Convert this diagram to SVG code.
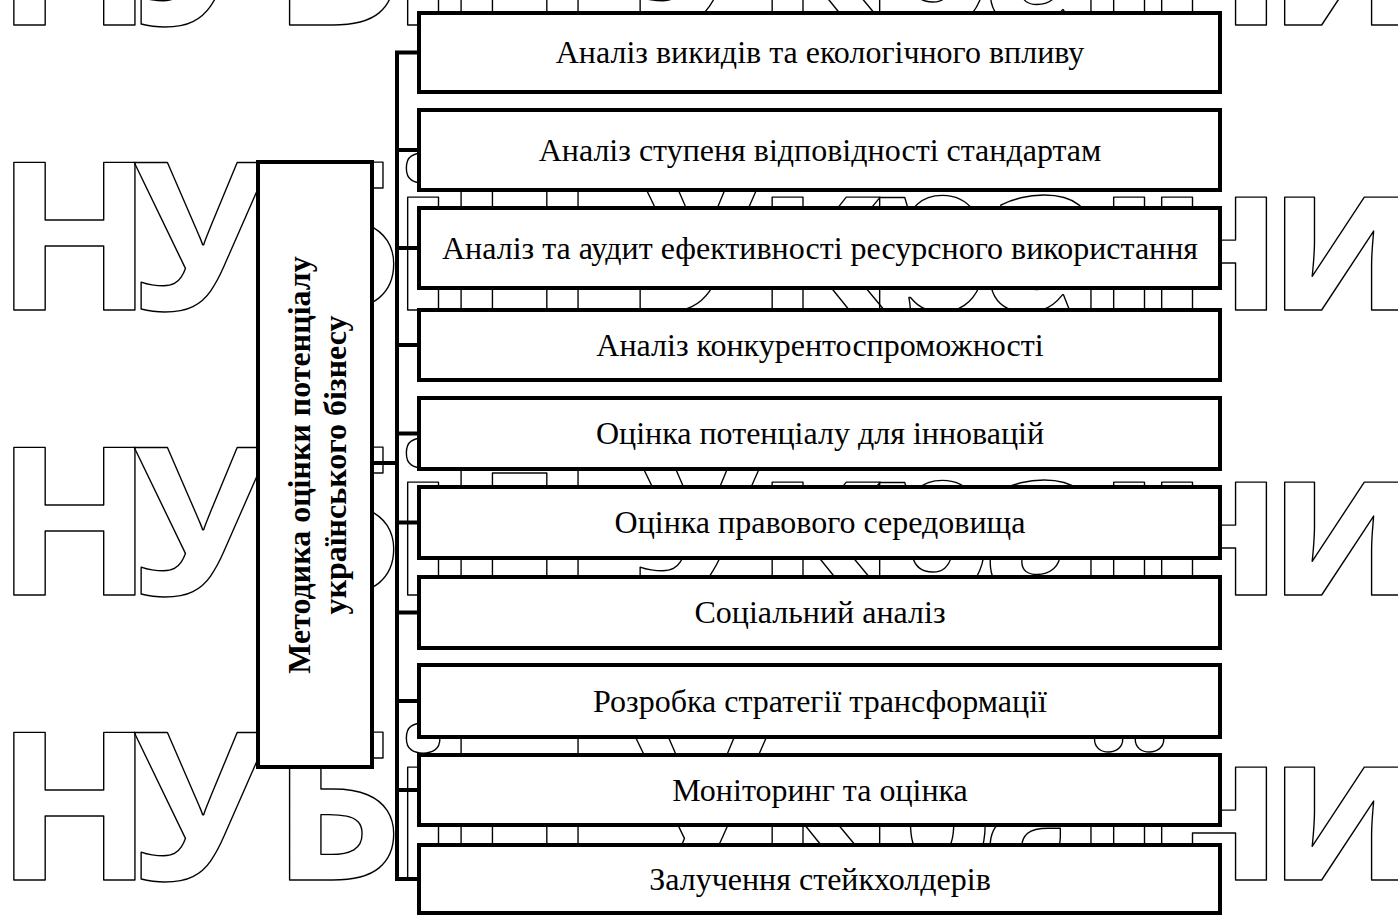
<svg xmlns="http://www.w3.org/2000/svg" width="1398" height="915" viewBox="0 0 1398 915">
<style>
.wm{font-family:"Open Sans","DejaVu Sans",sans-serif;font-weight:bold;font-size:207px;fill:none;stroke:#000;stroke-width:1.4;stroke-linejoin:round;text-anchor:middle}
.box{fill:#fff;stroke:#000;stroke-width:4}
.lbl{font-family:"Liberation Serif","Times New Roman",serif;font-size:32px;fill:#000;text-anchor:middle}
.main{font-family:"Liberation Serif","Times New Roman",serif;font-size:32px;font-weight:bold;fill:#000;text-anchor:middle}
.con{fill:none;stroke:#000;stroke-width:4;stroke-linejoin:miter}
</style>
<rect width="1398" height="915" fill="#fff"/>
<g id="watermark">
<text class="wm" x="74.5 201 337 423 519.5 600 700 820 929 1044 1129 1214 1343" y="25">НУБіП України</text>
<text class="wm" x="74.5 201 337 423 519.5 600 700 820 929 1044 1129 1214 1343" y="310">НУБіП України</text>
<text class="wm" x="74.5 201 337 423 519.5 600 700 820 929 1044 1129 1214 1343" y="595">НУБіП України</text>
<text class="wm" x="74.5 201 337 423 519.5 600 700 820 929 1044 1129 1214 1343" y="880">НУБіП України</text>
</g>
<g id="connectors">
<path class="con" d="M419,52.5 H397 V879 H419"/>
<path class="con" d="M397,150 H419 M397,248 H419 M397,345 H419 M397,433.5 H419 M397,522.5 H419 M397,612.5 H419 M397,701 H419 M397,790 H419"/>
<path class="con" d="M372,463 H397"/>
</g>
<g id="root">
<rect class="box" x="258" y="162" width="114" height="605"/>
<text class="main" transform="translate(309.5,465) rotate(-90)" x="0" y="0">Методика оцінки потенціалу</text>
<text class="main" transform="translate(346,465) rotate(-90)" x="0" y="0">українського бізнесу</text>
</g>
<g id="n1"><rect class="box" x="419" y="13" width="801" height="79"/><text class="lbl" x="820" y="63">Аналіз викидів та екологічного впливу</text></g>
<g id="n2"><rect class="box" x="419" y="110" width="801" height="80"/><text class="lbl" x="820" y="160.5">Аналіз ступеня відповідності стандартам</text></g>
<g id="n3"><rect class="box" x="419" y="208" width="801" height="80"/><text class="lbl" x="820" y="258.5">Аналіз та аудит ефективності ресурсного використання</text></g>
<g id="n4"><rect class="box" x="419" y="310" width="801" height="70"/><text class="lbl" x="820" y="355.5">Аналіз конкурентоспроможності</text></g>
<g id="n5"><rect class="box" x="419" y="398" width="801" height="71"/><text class="lbl" x="820" y="444">Оцінка потенціалу для інновацій</text></g>
<g id="n6"><rect class="box" x="419" y="487" width="801" height="71"/><text class="lbl" x="820" y="533">Оцінка правового середовища</text></g>
<g id="n7"><rect class="box" x="419" y="577" width="801" height="71"/><text class="lbl" x="820" y="623">Соціальний аналіз</text></g>
<g id="n8"><rect class="box" x="419" y="665" width="801" height="72"/><text class="lbl" x="820" y="711.5">Розробка стратегії трансформації</text></g>
<g id="n9"><rect class="box" x="419" y="755" width="801" height="70"/><text class="lbl" x="820" y="800.5">Моніторинг та оцінка</text></g>
<g id="n10"><rect class="box" x="419" y="845" width="801" height="68"/><text class="lbl" x="820" y="889.5">Залучення стейкхолдерів</text></g>
</svg>
